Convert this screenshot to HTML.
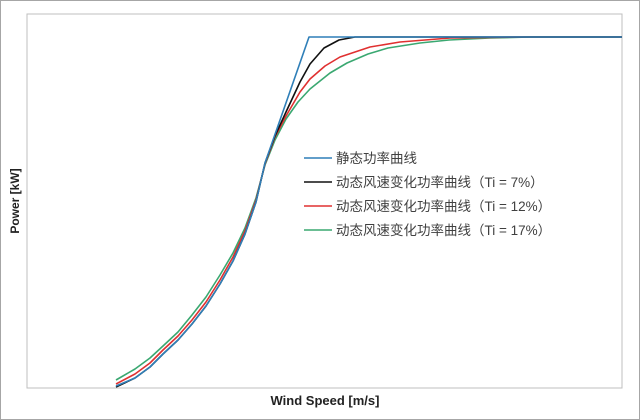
<!DOCTYPE html>
<html><head><meta charset="utf-8"><style>
body{margin:0;background:#fff}
svg{display:block}
</style></head><body>
<svg width="640" height="420" viewBox="0 0 640 420" xmlns="http://www.w3.org/2000/svg">
<rect x="0.5" y="0.5" width="639" height="419" fill="#fff" stroke="#a6a6a6"/>
<rect x="27" y="14" width="595" height="374" fill="#fff" stroke="#bfbfbf"/>
<g fill="none" stroke-width="1.6" stroke-linejoin="round">
<polyline stroke="#3aa871" points="116,380 135,369 150,358 163,346 178,332 192,315 206,297 220,275 233,253 245,228 256,198 265,165 275,140 286,119 298,102 310,89 330,73 347,63 368,54 388,48 420,43 449,40 490,38 531,37 622,37"/>
<polyline stroke="#e03030" points="116,384 135,374 150,363 163,350 178,336 192,320 206,302 220,280 233,257 245,231 256,200 265,164 275,137 286,116 300,92 310,79 325,66 340,57 370,47 400,42 450,38 520,37 622,37"/>
<polyline stroke="#111" points="116,387 135,378 150,367 163,354 178,340 192,324 206,306 220,284 233,261 245,234 256,202 265,163 275,136 286,112 300,82 310,64 324,48 339,40 355,37 622,37"/>
<polyline stroke="#2f7fb8" points="116,386 135,378 150,367 163,354 178,340 192,324 206,306 220,284 233,261 245,234 256,202 265,163 309,37 622,37"/>
</g>
<g stroke-width="1.6">
<line x1="304" y1="158" x2="332" y2="158" stroke="#2f7fb8"/>
<line x1="304" y1="182" x2="332" y2="182" stroke="#111"/>
<line x1="304" y1="206" x2="332" y2="206" stroke="#e03030"/>
<line x1="304" y1="230" x2="332" y2="230" stroke="#3aa871"/>
</g>
<g font-family="'Liberation Sans','Noto Sans CJK SC',sans-serif" font-size="13.5" fill="#404040">
<text x="336" y="163">静态功率曲线</text>
<text x="336" y="187">动态风速变化功率曲线（Ti = 7%）</text>
<text x="336" y="211">动态风速变化功率曲线（Ti = 12%）</text>
<text x="336" y="235">动态风速变化功率曲线（Ti = 17%）</text>
</g>
<text x="325" y="405" text-anchor="middle" font-family="'Liberation Sans',sans-serif" font-size="13" font-weight="bold" fill="#222">Wind Speed [m/s]</text>
<text transform="translate(19,201) rotate(-90)" text-anchor="middle" font-family="'Liberation Sans',sans-serif" font-size="12" font-weight="bold" fill="#222">Power [kW]</text>
</svg>
</body></html>
